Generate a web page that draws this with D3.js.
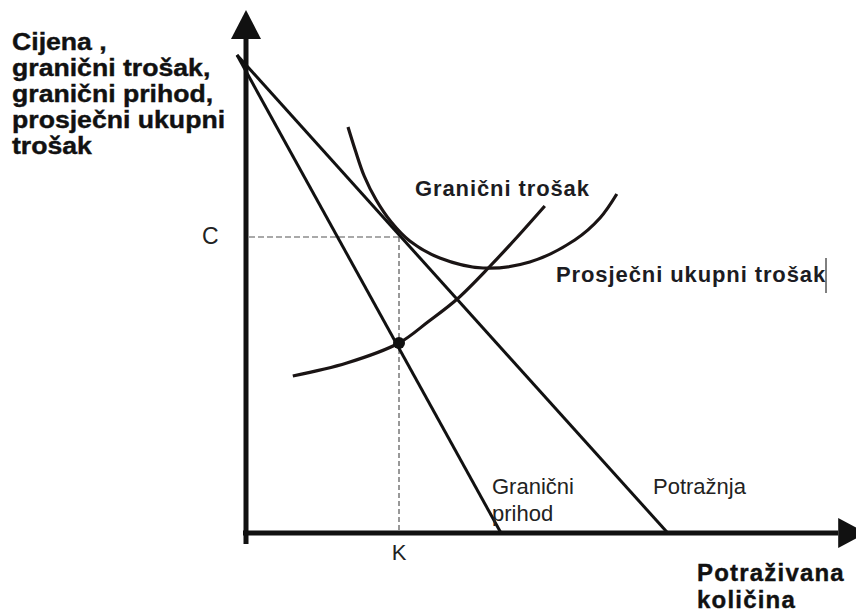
<!DOCTYPE html>
<html>
<head>
<meta charset="utf-8">
<script src="https://cdn.jsdelivr.net/npm/d3@7"></script>
<style>
  body { margin: 0; background: #fff; }
  svg { display: block; font-family: "Liberation Sans", Arial, sans-serif; }
</style>
</head>
<body>
<div id="chart"></div>
<script>
// vrijednosti (u jedinicama grafa: količina 0-100, cijena 0-100)
const demand = [[-1.5, 95.6], [70.3, 0]];
const marginalRevenue = [[-1.5, 95.6], [42.5, 0]];
const marginalCost = [[7.8, 31.4], [16.8, 34], [25.5, 38], [30.3, 42.2], [35.2, 46.8], [40.7, 53.4], [45.2, 59.2], [49.8, 65.4]];
const averageCost = [[17, 81.2], [18.2, 76.6], [19.7, 71.4], [21.7, 66.6], [24.2, 62.2], [27.3, 58.4], [32.3, 55], [39.5, 53], [47.3, 54.2], [54.8, 58.6], [59, 63], [61.8, 67.8]];
const optimum = { k: 25.5, c: 59.2, mc: 38 };

const yTitle = ["Cijena ,", "granični trošak,", "granični prihod,", "prosječni ukupni", "trošak"];
const xTitle = ["Potraživana", "količina"];

const width = 856;
const height = 612;

const x = d3.scaleLinear().domain([0, 100]).range([246, 846]);
const y = d3.scaleLinear().domain([0, 100]).range([533, 33]);

const svg = d3.select("#chart").append("svg")
    .attr("width", width)
    .attr("height", height);

const ink = "#111";

// osi
svg.append("line")
    .attr("x1", x(0)).attr("x2", x(0))
    .attr("y1", y(0) + 11).attr("y2", y(99))
    .attr("stroke", ink).attr("stroke-width", 5);
svg.append("path")
    .attr("d", `M${x(0) - 15},${y(99) + 1} L${x(0)},${y(99) - 28} L${x(0) + 15},${y(99) + 1} Z`)
    .attr("fill", ink);

svg.append("line")
    .attr("x1", x(0) - 3).attr("x2", x(98.7))
    .attr("y1", y(0)).attr("y2", y(0))
    .attr("stroke", ink).attr("stroke-width", 5);
svg.append("path")
    .attr("d", `M${x(98.7)},${y(0) - 15} L${x(98.7) + 28},${y(0)} L${x(98.7)},${y(0) + 15} Z`)
    .attr("fill", ink);

// isprekidane linije
svg.append("line")
    .attr("x1", x(0) + 3).attr("x2", x(optimum.k))
    .attr("y1", y(optimum.c)).attr("y2", y(optimum.c))
    .attr("stroke", "#555").attr("stroke-width", 1.2)
    .attr("stroke-dasharray", "6,3");
svg.append("line")
    .attr("x1", x(optimum.k)).attr("x2", x(optimum.k))
    .attr("y1", y(optimum.c)).attr("y2", y(0) - 2)
    .attr("stroke", "#333").attr("stroke-width", 1)
    .attr("stroke-dasharray", "5,3");

const line = d3.line().x(d => x(d[0])).y(d => y(d[1]));
const curve = d3.line().x(d => x(d[0])).y(d => y(d[1])).curve(d3.curveCatmullRom.alpha(0.5));

[demand, marginalRevenue].forEach(d => {
    svg.append("path").attr("d", line(d))
        .attr("fill", "none").attr("stroke", ink).attr("stroke-width", 3);
});
[marginalCost, averageCost].forEach(d => {
    svg.append("path").attr("d", curve(d))
        .attr("fill", "none").attr("stroke", "#1a1414").attr("stroke-width", 3.2)
        .attr("stroke-linecap", "butt");
});

svg.append("circle")
    .attr("cx", x(optimum.k)).attr("cy", y(optimum.mc))
    .attr("r", 6).attr("fill", ink);

// naslovi osi
const yt = svg.append("g").attr("transform", "translate(12,0) scale(1.11,1)");
yt.selectAll("text").data(yTitle).join("text")
    .attr("x", 0)
    .attr("y", (d, i) => 50 + i * 26)
    .attr("font-size", 24).attr("font-weight", "bold")
    .attr("fill", ink).attr("stroke", ink).attr("stroke-width", 0.4)
    .text(d => d);

svg.append("g").selectAll("text").data(xTitle).join("text")
    .attr("x", 697)
    .attr("y", (d, i) => 581 + i * 27)
    .attr("font-size", 24).attr("font-weight", "bold")
    .attr("letter-spacing", 1.2)
    .attr("fill", ink).attr("stroke", ink).attr("stroke-width", 0.4)
    .text(d => d);

// oznake
svg.append("text")
    .attr("x", x(0) - 44).attr("y", y(optimum.c) + 7)
    .attr("font-size", 23).attr("fill", "#222")
    .text("C");
svg.append("text")
    .attr("x", x(optimum.k)).attr("y", y(0) + 27)
    .attr("text-anchor", "middle")
    .attr("font-size", 22).attr("fill", "#222")
    .text("K");

svg.append("text")
    .attr("x", 415).attr("y", 196)
    .attr("font-size", 22).attr("font-weight", "bold").attr("fill", "#1c1c22")
    .attr("letter-spacing", 0.9)
    .text("Granični trošak");
svg.append("text")
    .attr("x", 556).attr("y", 282)
    .attr("font-size", 22).attr("font-weight", "bold").attr("fill", "#1c1c22")
    .attr("letter-spacing", 0.9)
    .text("Prosječni ukupni trošak");
svg.append("line")
    .attr("x1", 826).attr("x2", 826).attr("y1", 258).attr("y2", 293)
    .attr("stroke", "#000").attr("stroke-width", 1);

svg.append("text")
    .attr("x", 492).attr("y", 494)
    .attr("font-size", 22).attr("fill", "#222")
    .text("Granični");
svg.append("text")
    .attr("x", 492).attr("y", 521)
    .attr("font-size", 22).attr("fill", "#222")
    .text("prihod");
svg.append("text")
    .attr("x", 653).attr("y", 494)
    .attr("font-size", 22).attr("fill", "#222")
    .text("Potražnja");
</script>
</body>
</html>
